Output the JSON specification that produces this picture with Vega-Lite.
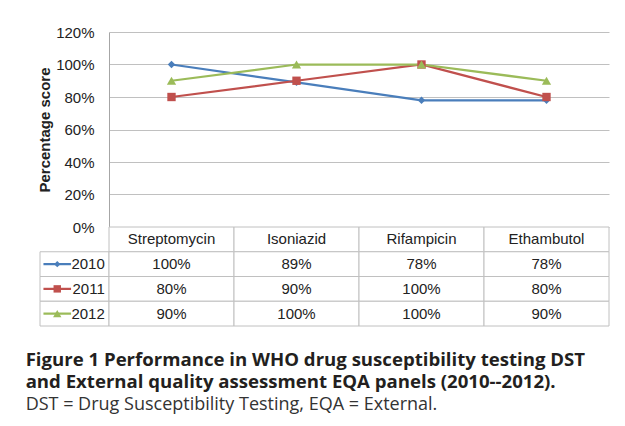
{
  "$schema": "https://vega.github.io/schema/vega-lite/v6.json",
  "background": "white",
  "padding": {"left": 25, "top": 25, "right": 0, "bottom": 0},
  "datasets": {
    "scores": [
      {"drug": "Streptomycin", "year": "2010", "score": 1.00},
      {"drug": "Isoniazid", "year": "2010", "score": 0.89},
      {"drug": "Rifampicin", "year": "2010", "score": 0.78},
      {"drug": "Ethambutol", "year": "2010", "score": 0.78},
      {"drug": "Streptomycin", "year": "2011", "score": 0.80},
      {"drug": "Isoniazid", "year": "2011", "score": 0.90},
      {"drug": "Rifampicin", "year": "2011", "score": 1.00},
      {"drug": "Ethambutol", "year": "2011", "score": 0.80},
      {"drug": "Streptomycin", "year": "2012", "score": 0.90},
      {"drug": "Isoniazid", "year": "2012", "score": 1.00},
      {"drug": "Rifampicin", "year": "2012", "score": 1.00},
      {"drug": "Ethambutol", "year": "2012", "score": 0.90}
    ],
    "drugs": [
      {"drug": "Streptomycin", "row": ""},
      {"drug": "Isoniazid", "row": ""},
      {"drug": "Rifampicin", "row": ""},
      {"drug": "Ethambutol", "row": ""}
    ],
    "years": [
      {"year": "2010", "part": "symbol"},
      {"year": "2011", "part": "symbol"},
      {"year": "2012", "part": "symbol"}
    ]
  },
  "title": {
    "text": ["Figure 1 Performance in WHO drug susceptibility testing DST", "and External quality assessment EQA panels (2010--2012)."],
    "subtitle": "DST = Drug Susceptibility Testing, EQA = External.",
    "orient": "bottom",
    "anchor": "start",
    "offset": 24,
    "dx": -12,
    "font": "Open Sans",
    "fontSize": 18.6,
    "fontWeight": "bold",
    "color": "#231f20",
    "lineHeight": 22.5,
    "subtitleFont": "Open Sans",
    "subtitleFontSize": 18,
    "subtitleFontWeight": "normal",
    "subtitleColor": "#333333",
    "subtitlePadding": 4
  },
  "columns": 2,
  "spacing": 0,
  "bounds": "flush",
  "resolve": {"scale": {"x": "independent", "y": "independent", "color": "independent", "shape": "independent", "size": "independent"}},
  "concat": [
    {
      "width": 69,
      "height": 195,
      "data": {"values": [{}]},
      "mark": {"type": "text"},
      "encoding": {"text": {"value": ""}}
    },
    {
      "width": 500,
      "height": 195,
      "data": {"name": "scores"},
      "encoding": {
        "x": {"field": "drug", "type": "nominal", "sort": ["Streptomycin", "Isoniazid", "Rifampicin", "Ethambutol"], "scale": {"type": "point", "padding": 0.5}, "axis": null},
        "y": {
          "field": "score", "type": "quantitative",
          "scale": {"domain": [0, 1.2], "nice": false},
          "axis": {
            "title": "Percentage score",
            "format": ".0%",
            "values": [0, 0.2, 0.4, 0.6, 0.8, 1.0, 1.2],
            "grid": true,
            "gridColor": "#c0c0c0",
            "domainColor": "#a6a6a6",
            "ticks": false,
            "labelPadding": 15,
            "labelFontSize": 15,
            "labelColor": "#222222",
            "labelFont": "Liberation Sans",
            "titleFont": "Liberation Sans",
            "titleFontSize": 15,
            "titleFontWeight": "bold",
            "titleColor": "#222222",
            "titlePadding": 3
          }
        },
        "color": {"field": "year", "type": "nominal", "scale": {"domain": ["2010", "2011", "2012"], "range": ["#4a7ebb", "#c0504d", "#9bbb59"]}, "legend": null}
      },
      "layer": [
        {"mark": {"type": "line", "strokeWidth": 2.25}},
        {
          "mark": {"type": "point", "filled": true, "opacity": 1},
          "encoding": {
            "shape": {"field": "year", "type": "nominal", "scale": {"domain": ["2010", "2011", "2012"], "range": ["diamond", "square", "triangle-up"]}, "legend": null},
            "size": {"field": "year", "type": "nominal", "scale": {"domain": ["2010", "2011", "2012"], "range": [55, 85, 85]}, "legend": null}
          }
        }
      ]
    },
    {
      "width": 69,
      "height": 99,
      "data": {"name": "years"},
      "encoding": {
        "y": {"field": "year", "type": "nominal", "scale": {"domain": ["", "2010", "2011", "2012"], "paddingInner": 0, "paddingOuter": 0}, "axis": null}
      },
      "layer": [
        {"mark": {"type": "rect", "fill": "white", "stroke": "#c0c0c0", "strokeWidth": 1}},
        {
          "mark": {"type": "bar", "height": {"band": 0.09}, "width": {"band": 0.8}},
          "encoding": {
            "x": {"field": "part", "type": "nominal", "scale": {"domain": ["symbol", "label"], "paddingInner": 0, "paddingOuter": 0}, "axis": null},
            "color": {"field": "year", "type": "nominal", "scale": {"domain": ["2010", "2011", "2012"], "range": ["#4a7ebb", "#c0504d", "#9bbb59"]}, "legend": null}
          }
        },
        {
          "mark": {"type": "point", "filled": true, "opacity": 1},
          "encoding": {
            "x": {"field": "part", "type": "nominal", "scale": {"domain": ["symbol", "label"], "paddingInner": 0, "paddingOuter": 0}, "axis": null},
            "color": {"field": "year", "type": "nominal", "scale": {"domain": ["2010", "2011", "2012"], "range": ["#4a7ebb", "#c0504d", "#9bbb59"]}, "legend": null},
            "shape": {"field": "year", "type": "nominal", "scale": {"domain": ["2010", "2011", "2012"], "range": ["diamond", "square", "triangle-up"]}, "legend": null},
            "size": {"field": "year", "type": "nominal", "scale": {"domain": ["2010", "2011", "2012"], "range": [40, 70, 70]}, "legend": null}
          }
        },
        {
          "mark": {"type": "text", "fontSize": 15, "font": "Liberation Sans", "color": "#222222", "align": "right", "dx": 13},
          "encoding": {
            "x": {"datum": "label", "type": "nominal", "scale": {"domain": ["symbol", "label"], "paddingInner": 0, "paddingOuter": 0}, "axis": null},
            "text": {"field": "year"}
          }
        }
      ]
    },
    {
      "width": 500,
      "height": 99,
      "encoding": {
        "x": {"field": "drug", "type": "nominal", "sort": ["Streptomycin", "Isoniazid", "Rifampicin", "Ethambutol"], "scale": {"domain": ["Streptomycin", "Isoniazid", "Rifampicin", "Ethambutol"], "paddingInner": 0, "paddingOuter": 0}, "axis": null}
      },
      "layer": [
        {
          "data": {"name": "drugs"},
          "mark": {"type": "rect", "fill": "white", "stroke": "#c0c0c0", "strokeWidth": 1},
          "encoding": {"y": {"field": "row", "type": "nominal", "scale": {"domain": ["", "2010", "2011", "2012"], "paddingInner": 0, "paddingOuter": 0}, "axis": null}}
        },
        {
          "data": {"name": "scores"},
          "mark": {"type": "rect", "fill": "white", "stroke": "#c0c0c0", "strokeWidth": 1},
          "encoding": {"y": {"field": "year", "type": "nominal", "scale": {"domain": ["", "2010", "2011", "2012"], "paddingInner": 0, "paddingOuter": 0}, "axis": null}}
        },
        {
          "data": {"name": "drugs"},
          "mark": {"type": "text", "fontSize": 15, "font": "Liberation Sans", "color": "#222222"},
          "encoding": {
            "y": {"field": "row", "type": "nominal", "scale": {"domain": ["", "2010", "2011", "2012"], "paddingInner": 0, "paddingOuter": 0}, "axis": null},
            "text": {"field": "drug"}
          }
        },
        {
          "data": {"name": "scores"},
          "mark": {"type": "text", "fontSize": 15, "font": "Liberation Sans", "color": "#222222"},
          "encoding": {
            "y": {"field": "year", "type": "nominal", "scale": {"domain": ["", "2010", "2011", "2012"], "paddingInner": 0, "paddingOuter": 0}, "axis": null},
            "text": {"field": "score", "type": "quantitative", "format": ".0%"}
          }
        }
      ]
    }
  ],
  "config": {
    "view": {"stroke": null},
    "font": "Liberation Sans"
  }
}
